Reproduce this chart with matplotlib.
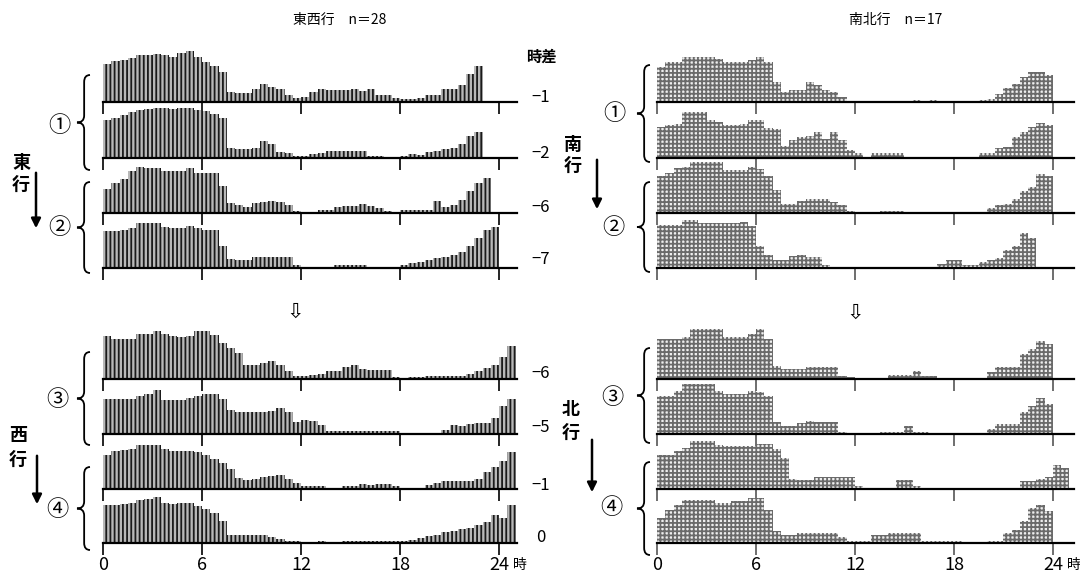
import numpy as np
import matplotlib
matplotlib.use('Agg')
import matplotlib.pyplot as plt
from matplotlib.path import Path
from matplotlib.patches import PathPatch

plt.rcParams['font.family'] = ['Noto Sans CJK JP', 'DejaVu Sans']
plt.rcParams['hatch.linewidth'] = 1.3

W, H = 1080, 572
hours = np.arange(50) * 0.5   # half-hour bins, 0..25 h

# 東西行 n=28, strips from top to bottom (relative frequency per half hour)
ew1 = [38,41,42,44,47,47,48,47,45,49,51,45,40,36,30,10,9,9,13,18,15,13,7,4,5,10,13,12,12,12,13,11,13,7,7,4,3,3,4,7,7,13,13,17,28,36]
ew2 = [38,40,43,46,48,49,50,50,49,50,50,48,47,44,40,10,9,9,10,17,14,6,5,2,2,4,5,7,7,7,7,7,2,2,1,1,2,4,3,6,7,9,10,14,22,26]
ew3 = [24,30,34,42,46,45,45,42,42,42,45,40,40,40,27,10,8,6,10,11,12,11,8,2,1,1,3,3,6,7,7,9,7,5,2,1,3,3,3,3,12,6,8,13,22,30,35]
ew4 = [37,37,38,40,45,45,45,41,40,40,42,40,38,38,22,9,8,8,11,11,11,11,11,3,0,0,0,0,3,3,3,3,0,0,0,0,3,5,6,8,10,11,13,16,22,30,38,41]
ew5 = [43,40,40,40,45,45,48,45,43,42,43,48,48,44,36,31,26,14,14,16,18,14,8,3,3,4,5,8,8,12,14,10,9,9,9,2,1,2,2,3,3,3,3,3,5,8,11,14,22,33]
ew6 = [35,35,35,35,38,40,44,34,34,34,36,38,40,40,35,24,22,22,22,22,23,26,22,12,14,13,9,3,3,3,3,3,3,3,3,3,1,1,1,1,1,4,9,8,10,11,11,16,28,35]
ew7 = [34,38,39,40,44,44,44,40,38,38,38,37,34,30,26,20,11,9,10,12,13,14,10,6,3,3,3,0,0,3,3,5,4,5,5,3,1,0,0,4,6,8,8,8,8,10,17,22,28,37]
ew8 = [38,38,39,40,43,44,46,40,39,40,40,37,34,30,22,8,8,8,8,8,6,4,2,2,1,1,2,1,0,2,2,2,2,2,2,2,2,3,5,7,8,11,12,14,15,18,21,28,25,38]

# 南北行 n=17
ns1 = [35,40,40,45,45,45,45,43,40,40,40,42,45,40,20,10,12,12,20,17,12,10,5,0,0,0,0,0,0,0,0,2,0,2,0,0,0,0,0,2,3,8,14,18,25,30,30,27]
ns2 = [31,33,34,46,46,46,38,36,33,33,34,38,38,30,29,12,18,21,22,26,19,26,18,8,5,0,5,5,5,5,0,0,0,0,0,0,0,0,0,5,5,10,11,21,26,31,35,33]
ns3 = [37,40,45,46,51,51,51,51,43,43,43,46,44,37,23,9,9,12,14,14,14,11,8,2,0,0,0,2,2,2,0,0,0,0,0,0,0,0,0,0,5,8,9,14,22,26,39,37]
ns4 = [43,43,43,48,48,45,45,45,45,45,46,42,22,13,8,8,12,13,11,11,3,1,0,0,0,0,0,0,0,0,0,0,0,0,4,8,8,3,3,6,8,10,18,22,35,30]
ns5 = [40,40,40,42,50,50,50,50,42,42,42,45,50,40,13,10,10,10,12,12,12,12,3,2,1,1,1,1,4,4,4,8,3,3,1,0,0,0,0,0,7,12,12,12,25,30,38,35]
ns6 = [38,38,43,50,50,50,50,43,40,40,40,43,42,38,12,8,8,11,13,12,12,12,2,1,1,1,1,2,2,2,8,2,2,1,0,0,0,0,0,0,5,10,10,10,22,28,36,30]
ns7 = [34,34,38,41,48,48,48,44,43,43,43,43,45,45,40,31,10,9,9,12,12,12,12,12,3,1,0,0,0,9,9,3,1,0,0,0,0,0,0,0,0,0,0,0,8,8,10,12,24,21]
ns8 = [25,33,38,43,43,43,43,40,40,42,42,45,45,33,12,8,8,10,10,10,10,10,6,2,2,2,8,8,10,10,10,10,2,2,2,2,2,1,1,1,2,2,10,13,22,35,38,32]

ew_data = [ew1, ew2, ew3, ew4, ew5, ew6, ew7, ew8]
ns_data = [ns1, ns2, ns3, ns4, ns5, ns6, ns7, ns8]
shift_labels = ['−1', '−2', '−6', '−7', '−6', '−5', '−1', '0']
tick_hours = [0, 6, 12, 18, 24]
tick_labels = ['0', '6', '12', '18', '24']

baselines = [102, 158, 213, 268, 379, 434, 489, 543]
px_per_h = 16.5

fig = plt.figure(figsize=(10.8, 5.72), dpi=100)
bg = fig.add_axes([0, 0, 1, 1])
bg.set_xlim(0, W)
bg.set_ylim(H, 0)
bg.axis('off')


def strip(x0, xmax, yb, vals, hatch, ec, fc, tcol, last):
    ax = fig.add_axes([x0 / W, (H - yb) / H, xmax * px_per_h / W, 52 / H])
    v = np.zeros(50)
    v[:len(vals)] = vals
    ax.bar(hours, v, width=0.5, align='edge', color=fc, edgecolor=ec,
           hatch=hatch, linewidth=0)
    ax.set_xlim(0, xmax)
    ax.set_ylim(0, 52)
    ax.set_facecolor('none')
    for s in ['top', 'right', 'left']:
        ax.spines[s].set_visible(False)
    ax.spines['bottom'].set_linewidth(1.6)
    ax.set_yticks([])
    ax.set_xticks(tick_hours)
    ax.tick_params(axis='x', direction='out', length=8.5, width=1.2, color=tcol, pad=0.5)
    if last:
        ax.set_xticklabels(tick_labels, fontsize=13)
    else:
        ax.set_xticklabels([])
    return ax


for i, yb in enumerate(baselines):
    strip(103, 25.1, yb, ew_data[i], '||||', '#1a1a1a', '#b8b8b8', 'black', i == 7)
    strip(657, 25.3, yb, ns_data[i], '++++', '#6a6a6a', '#eeeeee', '#555555', i == 7)


def brace(x, y0, y1, w=13, r=7):
    ym = (y0 + y1) / 2
    xm = x + w * 0.55
    xr = x + w
    verts = [(xr, y0), (xm, y0), (xm, y0 + r),
             (xm, ym - r), (xm, ym), (x, ym),
             (xm, ym), (xm, ym + r),
             (xm, y1 - r), (xm, y1), (xr, y1)]
    codes = [Path.MOVETO, Path.CURVE3, Path.CURVE3,
             Path.LINETO, Path.CURVE3, Path.CURVE3,
             Path.CURVE3, Path.CURVE3,
             Path.LINETO, Path.CURVE3, Path.CURVE3]
    bg.add_patch(PathPatch(Path(verts, codes), fill=False, lw=1.3, color='black'))


for y0, y1 in [(75, 170), (182, 273), (352, 445), (467, 550)]:
    brace(77, y0, y1)
for y0, y1 in [(65, 162), (182, 272), (348, 443), (462, 555)]:
    brace(637, y0, y1)

circ = ['①', '②', '③', '④']
for c, (x, y) in zip(circ, [(59, 126), (59, 228), (57, 400), (57, 510)]):
    bg.text(x, y, c, fontsize=16, ha='center', va='center')
for c, (x, y) in zip(circ, [(614, 113), (613, 228), (612, 397), (611, 508)]):
    bg.text(x, y, c, fontsize=16, ha='center', va='center')

# titles
bg.text(340, 20, '東西行　n＝28', fontsize=10, ha='center', va='center')
bg.text(896, 20, '南北行　n＝17', fontsize=10, ha='center', va='center')
bg.text(541, 57, '時差', fontsize=11, fontweight='bold', ha='center', va='center')
for lab, y in zip(shift_labels, [97, 153, 208, 260, 373, 428, 485, 538]):
    bg.text(541, y, lab, fontsize=12, ha='center', va='center')

# direction labels with arrows
for ch, x, y in [('東', 21, 162), ('行', 21, 185), ('西', 18, 435), ('行', 18, 460),
                 ('南', 573, 145), ('行', 573, 166), ('北', 571, 410), ('行', 571, 433)]:
    bg.text(x, y, ch, fontsize=13, fontweight='bold', ha='center', va='center')
for x, y0, y1 in [(36, 170, 231), (37, 453, 507), (597, 157, 212), (592, 437, 495)]:
    bg.annotate('', xy=(x, y1), xytext=(x, y0),
                arrowprops=dict(arrowstyle='-|>', color='black', lw=1.8, mutation_scale=14))

# hollow arrows between groups
bg.text(295, 312, '⇩', fontsize=15, ha='center', va='center', family='DejaVu Sans')
bg.text(855, 313, '⇩', fontsize=15, ha='center', va='center', family='DejaVu Sans')

bg.text(520, 565, '時', fontsize=10, ha='center', va='center')
bg.text(1074, 565, '時', fontsize=10, ha='center', va='center')

fig.savefig('out.png', dpi=100)
